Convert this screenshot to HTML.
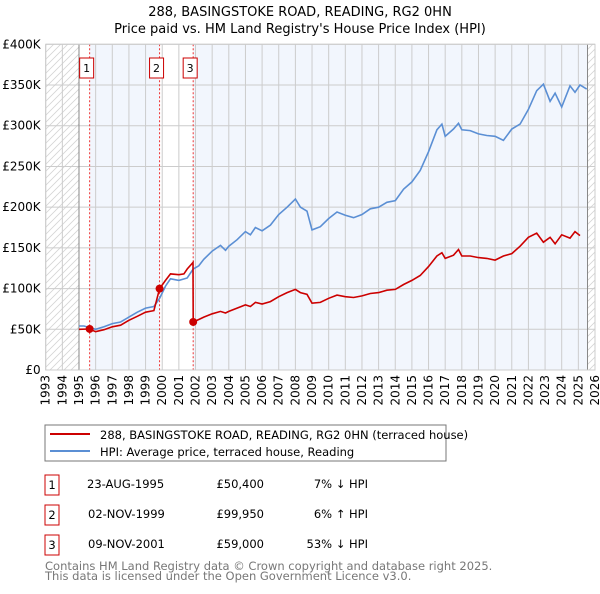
<!DOCTYPE html>
<html><head><meta charset="utf-8"><style>
body{margin:0;background:#fff;width:600px;height:590px;overflow:hidden;font-family:"DejaVu Sans","Liberation Sans",sans-serif;}
svg text{font-family:"DejaVu Sans","Liberation Sans",sans-serif;}
</style></head><body>
<svg id="c" width="600" height="590" xmlns="http://www.w3.org/2000/svg">
<defs><pattern id="hatch" width="7" height="7" patternUnits="userSpaceOnUse"><path d="M-1,8 L8,-1 M-1,1 L1,-1 M6,8 L8,6" stroke="#d4d4d4" stroke-width="0.8"/></pattern></defs>
<text x="300" y="16" text-anchor="middle" font-size="13">288, BASINGSTOKE ROAD, READING, RG2 0HN</text>
<text x="300" y="33" text-anchor="middle" font-size="13">Price paid vs. HM Land Registry's House Price Index (HPI)</text>
<g id="plot"></g>
<rect x="45" y="425" width="401" height="36" fill="#fff" stroke="#777"/>
<line x1="50" y1="434" x2="90" y2="434" stroke="#cc0000" stroke-width="2"/>
<text x="100" y="439" font-size="11.5">288, BASINGSTOKE ROAD, READING, RG2 0HN (terraced house)</text>
<line x1="50" y1="451" x2="90" y2="451" stroke="#5b8fd4" stroke-width="2"/>
<text x="100" y="456" font-size="11.5">HPI: Average price, terraced house, Reading</text>
<g font-size="11.5">
<rect x="45" y="475" width="14" height="20" fill="#fff" stroke="#cc0000"/><text x="52" y="489" text-anchor="middle">1</text>
<text x="87" y="488">23-AUG-1995</text><text x="264" y="488" text-anchor="end">£50,400</text><text x="368" y="488" text-anchor="end">7% ↓ HPI</text>
<rect x="45" y="505" width="14" height="20" fill="#fff" stroke="#cc0000"/><text x="52" y="519" text-anchor="middle">2</text>
<text x="88" y="518">02-NOV-1999</text><text x="264" y="518" text-anchor="end">£99,950</text><text x="368" y="518" text-anchor="end">6% ↑ HPI</text>
<rect x="45" y="535" width="14" height="20" fill="#fff" stroke="#cc0000"/><text x="52" y="549" text-anchor="middle">3</text>
<text x="88" y="548">09-NOV-2001</text><text x="264" y="548" text-anchor="end">£59,000</text><text x="368" y="548" text-anchor="end">53% ↓ HPI</text>
</g>
<text x="45" y="570" font-size="11.5" fill="#777">Contains HM Land Registry data © Crown copyright and database right 2025.</text>
<text x="45" y="580" font-size="11.5" fill="#777">This data is licensed under the Open Government Licence v3.0.</text>
</svg>
<script>
const yearTicks=[1993,1994,1995,1996,1997,1998,1999,2000,2001,2002,2003,2004,2005,2006,2007,2008,2009,2010,2011,2012,2013,2014,2015,2016,2017,2018,2019,2020,2021,2022,2023,2024,2025,2026];
const valueTicks=[0,50000,100000,150000,200000,250000,300000,350000,400000];
const valueLabels=["£0","£50K","£100K","£150K","£200K","£250K","£300K","£350K","£400K"];
const hpiDates=[1995,1995.3,1995.65,1996,1996.5,1997,1997.5,1998,1998.5,1999,1999.5,1999.84,2000.2,2000.5,2001,2001.5,2001.86,2002.2,2002.5,2003,2003.5,2003.8,2004,2004.5,2005,2005.3,2005.6,2006,2006.5,2007,2007.5,2008,2008.3,2008.7,2009,2009.5,2010,2010.5,2011,2011.5,2012,2012.5,2013,2013.5,2014,2014.5,2015,2015.5,2016,2016.5,2016.8,2017,2017.5,2017.8,2018,2018.5,2019,2019.5,2020,2020.5,2021,2021.5,2022,2022.5,2022.9,2023.3,2023.6,2024,2024.5,2024.8,2025.1,2025.5];
const hpiValues=[54000,54000,52000,50000,53000,57000,59000,65000,71000,76000,78000,88000,103000,112000,110000,113000,124000,128000,136000,146000,153000,147000,152000,160000,170000,166000,175000,171000,178000,191000,200000,210000,200000,195000,172000,176000,186000,194000,190000,187000,191000,198000,200000,206000,208000,222000,231000,245000,268000,295000,302000,287000,296000,303000,295000,294000,290000,288000,287000,282000,296000,302000,320000,343000,351000,330000,340000,323000,349000,341000,350000,345000];
const priceDates=[1995,1995.64,1996,1996.5,1997,1997.5,1998,1998.5,1999,1999.5,1999.84,2000.2,2000.5,2001,2001.3,2001.5,2001.85,2001.86,2002.2,2002.5,2003,2003.5,2003.8,2004,2004.5,2005,2005.3,2005.6,2006,2006.5,2007,2007.5,2008,2008.3,2008.7,2009,2009.5,2010,2010.5,2011,2011.5,2012,2012.5,2013,2013.5,2014,2014.5,2015,2015.5,2016,2016.5,2016.8,2017,2017.5,2017.8,2018,2018.5,2019,2019.5,2020,2020.5,2021,2021.5,2022,2022.5,2022.9,2023.3,2023.6,2024,2024.5,2024.8,2025.1,2025.5];
const priceValues=[50000,50400,47000,49500,53000,55000,61000,66000,71000,73000,99950,110000,118000,117000,118000,124000,132000,59000,62000,65000,69000,72000,70000,72000,76000,80000,78000,83000,81000,84000,90000,95000,99000,95000,93000,82000,83000,88000,92000,90000,89000,91000,94000,95000,98000,99000,105000,110000,116000,127000,140000,144000,137000,141000,148000,140000,140000,138000,137000,135000,140000,143000,152000,163000,168000,157000,163000,155000,166000,162000,170000,165000];
const saleDates=[1995.64,1999.84,2001.86];
const saleValues=[50400,99950,59000];
const saleLabels=["1","2","3"];

const X0=45.7,X1=595,Y0=370,Y1=44.3;
const xS=y=>X0+(y-1993)/(2026-1993)*(X1-X0);
const yS=v=>Y0-v/400000*(Y0-Y1);
const NS="http://www.w3.org/2000/svg";
const g=document.getElementById('plot');
function mk(t,a,p){const e=document.createElementNS(NS,t);for(const k in a)e.setAttribute(k,a[k]);(p||g).appendChild(e);return e;}
const dataEnd=2025.55;
let e;
e=mk('rect',{x:X0,y:Y1,width:xS(1995)-X0,height:Y0-Y1,fill:'url(#hatch)'});


e=mk('rect',{x:xS(dataEnd),y:Y1,width:X1-xS(dataEnd),height:Y0-Y1,fill:'url(#hatch)'});


e=mk('rect',{x:xS(saleDates[0]),y:Y1,width:xS(saleDates[1])-xS(saleDates[0]),height:Y0-Y1,fill:'#f2f6fd'});


e=mk('rect',{x:xS(saleDates[2]),y:Y1,width:xS(dataEnd)-xS(saleDates[2]),height:Y0-Y1,fill:'#f2f6fd'});


yearTicks.forEach(yr=>{const x=xS(yr);
 e=mk('line',{x1:x,x2:x,y1:Y1,y2:Y0,stroke:'#ccc','stroke-width':1});
 
 
 e=mk('text',{x:0,y:0,'font-size':12,'text-anchor':'end',transform:`translate(${x+4},${Y0+5}) rotate(-90)`});
 e.textContent=yr;
 
 
});
valueTicks.forEach((v,i)=>{const y=yS(v);
 e=mk('line',{x1:X0,x2:X1,y1:y,y2:y,stroke:'#ccc','stroke-width':1});
 
 
 e=mk('text',{x:X0-5,y:y+4,'font-size':12,'text-anchor':'end'});
 e.textContent=valueLabels[i];
 
 
});
e=mk('line',{x1:xS(1995),x2:xS(1995),y1:Y1,y2:Y0,stroke:'#888'});


e=mk('line',{x1:xS(dataEnd),x2:xS(dataEnd),y1:Y1,y2:Y0,stroke:'#888'});


saleDates.forEach((d,i)=>{const x=xS(d);
 e=mk('line',{x1:x,x2:x,y1:Y1,y2:Y0,stroke:'#ee3333','stroke-dasharray':'2,2','stroke-width':1});
 
 
 e=mk('rect',{x:x-10,y:58,width:14,height:20,fill:'#fff',stroke:'#cc0000'});
 
 
 e=mk('text',{x:x-3,y:72,'font-size':11,'text-anchor':'middle'});
 e.textContent=saleLabels[i];
 
 
});
const pts=(ds,vs)=>ds.map((d,i)=>xS(d).toFixed(1)+','+yS(vs[i]).toFixed(1)).join(' ');
e=mk('polyline',{points:pts(hpiDates,hpiValues),fill:'none',stroke:'#5b8fd4','stroke-width':1.6});


e=mk('polyline',{points:pts(priceDates,priceValues),fill:'none',stroke:'#cc0000','stroke-width':1.6});


saleDates.forEach((d,i)=>{
 e=mk('circle',{cx:xS(d),cy:yS(saleValues[i]),r:4,fill:'#cc0000'});
 
 
});
e=mk('rect',{x:X0,y:Y1,width:X1-X0,height:Y0-Y1,fill:'none',stroke:'#ccc'});


</script>
</body></html>
